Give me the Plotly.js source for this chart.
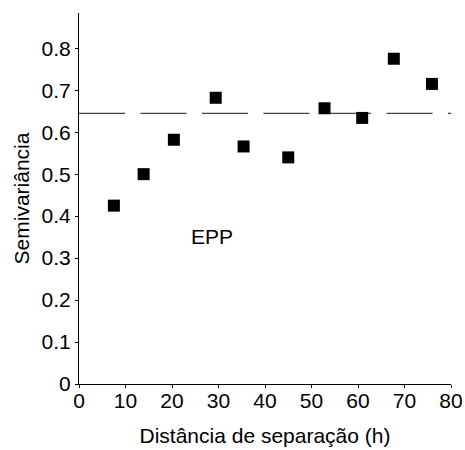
<!DOCTYPE html>
<html>
<head>
<meta charset="utf-8">
<script src="https://cdn.plot.ly/plotly-3.0.1.min.js"></script>
<style>html,body{margin:0;padding:0;background:#fff;}#chart{width:465px;height:450px;}</style>
</head>
<body>
<div id="chart"></div>
<script>
const distance = [7.5, 13.9, 20.4, 29.4, 35.4, 45.0, 52.8, 60.9, 67.7, 75.9];
const semivariance = [0.425, 0.500, 0.582, 0.682, 0.566, 0.540, 0.657, 0.634, 0.775, 0.715];
const sillX = [0, 80];
const sillY = [0.645, 0.645];
const xTitle = "Distância de separação (h)";
const yTitle = "Semivariância";
const label = "EPP";

const font = {family: "Liberation Sans, Arial, sans-serif", size: 21, color: "#000"};

const traces = [
  {x: sillX, y: sillY, mode: "lines", type: "scatter",
   line: {color: "#444", width: 1.2, dash: "46px,15.5px"}, hoverinfo: "skip", showlegend: false},
  {x: distance, y: semivariance, mode: "markers", type: "scatter",
   marker: {symbol: "square", size: 12, color: "#000", line: {width: 0}}, showlegend: false}
];

const layout = {
  width: 465, height: 450,
  margin: {l: 79, r: 14, t: 13, b: 66, pad: 0},
  paper_bgcolor: "#fff", plot_bgcolor: "#fff",
  font: font,
  showlegend: false,
  xaxis: {
    range: [0, 80], dtick: 10, tick0: 0, ticks: "outside", ticklen: 3, tickwidth: 1, tickcolor: "#000",
    ticklabelstandoff: -5,
    showline: true, linecolor: "#000", linewidth: 1, showgrid: false, zeroline: false,
    tickfont: font, title: {text: xTitle, font: font, standoff: 17}
  },
  yaxis: {
    range: [0, 0.884], dtick: 0.1, tick0: 0, ticks: "outside", ticklen: 3, tickwidth: 1, tickcolor: "#000",
    showline: true, linecolor: "#000", linewidth: 1, showgrid: false, zeroline: false,
    tickfont: font, title: {text: yTitle, font: font, standoff: 6}
  },
  annotations: [
    {x: 28.7, y: 0.351, xref: "x", yref: "y", text: label, showarrow: false,
     xanchor: "center", yanchor: "middle", font: font}
  ]
};

Plotly.newPlot("chart", traces, layout, {displayModeBar: false, staticPlot: true});
</script>
</body>
</html>
